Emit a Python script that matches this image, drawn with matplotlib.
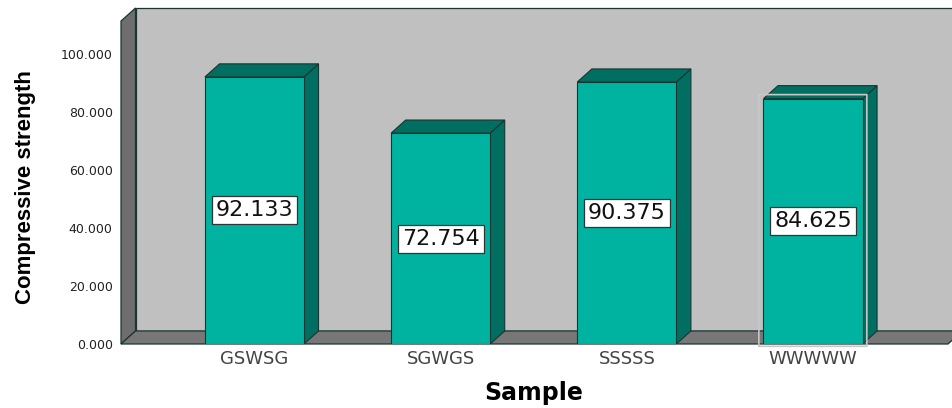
import matplotlib
matplotlib.use("Agg")
import matplotlib.pyplot as plt
from matplotlib.patches import Polygon, Rectangle, FancyBboxPatch
from matplotlib.ticker import FormatStrFormatter

# Mean compressive strength per stacking sequence
samples = ["GSWSG", "SGWGS", "SSSSS", "WWWWW"]
strength = [92.133, 72.754, 90.375, 84.625]
yticks = [0, 20, 40, 60, 80, 100]

# colours
FRONT = "#00B3A0"
DARK = "#006E60"
EDGE = "#1A3532"
WALL = "#C0C0C0"
FLOOR = "#777777"
SIDEWALL = "#6E6E6E"

# 3D depth offsets in data units, bar width
DX, DY = 0.078, 4.5
BAR_W = 0.532

W, H = 953, 408
fig = plt.figure(figsize=(W / 100, H / 100), dpi=100)
fig.patch.set_facecolor("white")
ax = fig.add_axes([121 / W, (H - 344) / H, (948 - 121) / W, 336 / H])
ax.set_xlim(-0.717, 3.725)
ax.set_ylim(0, 115.9)
for s in ax.spines.values():
    s.set_visible(False)
ax.set_facecolor("none")

x0, x1 = ax.get_xlim()
y1 = ax.get_ylim()[1]
xr = x1 + 0.2  # walls run off the right edge

# back wall
ax.add_patch(Polygon([(x0 + DX, DY), (xr, DY), (xr, y1), (x0 + DX, y1)],
                     closed=True, facecolor=WALL, edgecolor=EDGE, lw=0.9,
                     clip_on=False, zorder=0))
# left wall
ax.add_patch(Polygon([(x0, 0), (x0 + DX, DY), (x0 + DX, y1), (x0, y1 - DY)],
                     closed=True, facecolor=SIDEWALL, edgecolor=EDGE, lw=0.9,
                     clip_on=False, zorder=1))
# floor
ax.add_patch(Polygon([(x0, 0), (x1, 0), (x1 + DX, DY), (xr, DY),
                      (x0 + DX, DY)],
                     closed=True, facecolor=FLOOR, edgecolor=EDGE, lw=0.9,
                     clip_on=False, zorder=1))

# 3D bars
for i, (name, v) in enumerate(zip(samples, strength)):
    l, r = i - BAR_W / 2, i + BAR_W / 2
    ax.add_patch(Polygon([(r, 0), (r + DX, DY), (r + DX, v + DY), (r, v)],
                         closed=True, facecolor=DARK, edgecolor=EDGE,
                         lw=0.8, zorder=3))
    ax.add_patch(Polygon([(l, v), (l + DX, v + DY), (r + DX, v + DY), (r, v)],
                         closed=True, facecolor=DARK, edgecolor=EDGE,
                         lw=0.8, zorder=3))
    ax.add_patch(Rectangle((l, 0), BAR_W, v, facecolor=FRONT,
                           edgecolor=EDGE, lw=0.8, zorder=4))
    ax.text(i, v / 2, f"{v:.3f}", ha="center", va="center", fontsize=16,
            family="DejaVu Sans", color="#111111", zorder=6,
            bbox=dict(boxstyle="square,pad=0.18", facecolor="white",
                      edgecolor="#333333", lw=0.9))

# selection outline around the last bar
last = len(samples) - 1
ax.add_patch(FancyBboxPatch((last - BAR_W / 2 - 0.025, -0.8),
                            BAR_W + DX - 0.03, strength[last] + 2.2,
                            boxstyle="round,pad=0,rounding_size=0.02",
                            facecolor="none", edgecolor="#C8C8C8", lw=1.2,
                            zorder=5, clip_on=False))

ax.set_xticks(range(len(samples)))
ax.set_xticklabels(samples, fontsize=13, color="#444444", family="DejaVu Sans")
ax.set_yticks(yticks)
ax.yaxis.set_major_formatter(FormatStrFormatter("%.3f"))
ax.tick_params(axis="both", length=0)
ax.tick_params(axis="x", pad=4)
ax.tick_params(axis="y", pad=6, labelsize=9, labelcolor="#222222")

ax.set_ylabel("Compressive strength", fontsize=16, fontweight="bold",
              family="Liberation Sans", color="black")
ax.yaxis.set_label_coords(-0.116, 0.468)
ax.yaxis.label.set_va("center")
ax.set_xlabel("Sample", fontsize=17, fontweight="bold", family="DejaVu Sans",
              color="black")
ax.xaxis.set_label_coords(0.4994, -0.146)
ax.xaxis.label.set_va("center")

fig.savefig("out.png", dpi=100, facecolor="white")
